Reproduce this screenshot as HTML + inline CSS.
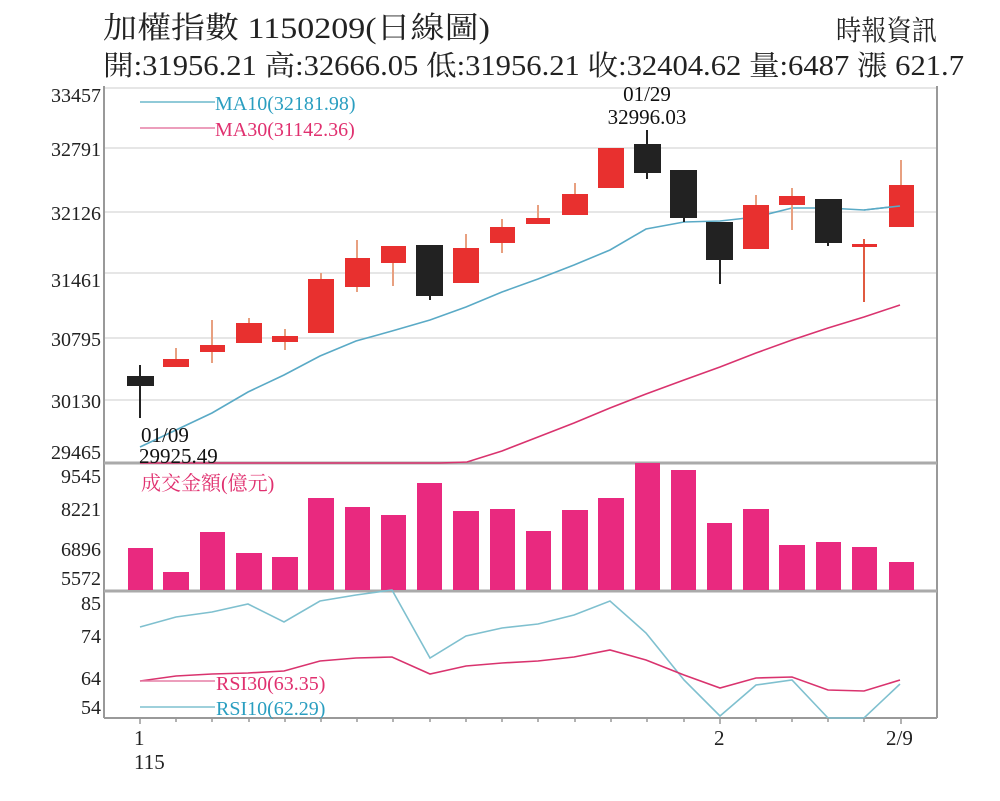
<!DOCTYPE html>
<html><head><meta charset="utf-8"><style>
html,body{margin:0;padding:0;background:#fff;}
svg{display:block;}
text{font-family:"Liberation Serif","Noto Serif CJK SC","Noto Sans CJK TC",serif;}
</style></head><body>
<svg width="1000" height="801" viewBox="0 0 1000 801" xmlns="http://www.w3.org/2000/svg">
<rect width="1000" height="801" fill="#fff"/>
<!-- header -->
<text x="103" y="38" font-size="30" fill="#222" textLength="387" lengthAdjust="spacingAndGlyphs">加權指數 1150209(日線圖)</text>
<text x="836" y="40" font-size="28" fill="#222" textLength="101" lengthAdjust="spacingAndGlyphs">時報資訊</text>
<text x="103" y="75" font-size="28" fill="#222" textLength="861" lengthAdjust="spacingAndGlyphs">開:31956.21 高:32666.05 低:31956.21 收:32404.62 量:6487 漲 621.7</text>

<!-- grid lines price -->
<g stroke="#ddd" stroke-width="1.5">
<line x1="104" y1="148" x2="937" y2="148"/>
<line x1="104" y1="212" x2="937" y2="212"/>
<line x1="104" y1="273" x2="937" y2="273"/>
<line x1="104" y1="338" x2="937" y2="338"/>
<line x1="104" y1="400" x2="937" y2="400"/>
<line x1="104" y1="88" x2="937" y2="88"/>
</g>
<!-- frame -->
<g stroke="#999" stroke-width="2" fill="none">
<line x1="104" y1="86" x2="104" y2="718"/>
<line x1="937" y1="86" x2="937" y2="718"/>
<line x1="104" y1="718" x2="937" y2="718"/>
</g>
<line x1="104" y1="463" x2="937" y2="463" stroke="#aaa" stroke-width="3"/>
<line x1="104" y1="591" x2="937" y2="591" stroke="#aaa" stroke-width="3"/>

<!-- y labels -->
<g font-size="20" fill="#222" text-anchor="end">
<text x="101" y="102">33457</text>
<text x="101" y="156">32791</text>
<text x="101" y="220">32126</text>
<text x="101" y="287">31461</text>
<text x="101" y="346">30795</text>
<text x="101" y="408">30130</text>
<text x="101" y="459">29465</text>
<text x="101" y="483">9545</text>
<text x="101" y="516">8221</text>
<text x="101" y="556">6896</text>
<text x="101" y="585">5572</text>
<text x="101" y="610">85</text>
<text x="101" y="643">74</text>
<text x="101" y="685">64</text>
<text x="101" y="714">54</text>
</g>

<!-- legend -->
<line x1="140" y1="102" x2="215" y2="102" stroke="#6bb8cc" stroke-width="1.5"/>
<text x="215" y="110" font-size="20" fill="#2a9ec0">MA10(32181.98)</text>
<line x1="140" y1="128" x2="215" y2="128" stroke="#e57fa5" stroke-width="1.5"/>
<text x="215" y="136" font-size="20" fill="#e0306f">MA30(31142.36)</text>

<!-- MA lines -->
<polyline fill="none" stroke="#5aaac6" stroke-width="1.6" points="140,447 176,430 212,413 248,392 284,375 320,356 356,341 392,331 430,320 466,307 502,292 538,279 574,265 610,250 646,229 684,222 720,221 756,217 792,208 828,208 864,210 900,206"/>
<polyline fill="none" stroke="#d9336e" stroke-width="1.6" points="140,463 440,463 467,462 502,451 538,437 574,423 610,408 646,394 684,380 720,367 756,353 792,340 828,328 864,317 900,305"/>

<!-- candles -->
<g stroke-width="2">
<g stroke="#222" fill="#222">
<line x1="140" y1="365" x2="140" y2="418"/><rect x="128" y="377" width="25" height="8"/>
<line x1="430" y1="246" x2="430" y2="300"/><rect x="417" y="246" width="25" height="49"/>
<line x1="647" y1="130" x2="647" y2="179"/><rect x="635" y="145" width="25" height="27"/>
<line x1="684" y1="171" x2="684" y2="222"/><rect x="671" y="171" width="25" height="46"/>
<line x1="720" y1="223" x2="720" y2="284"/><rect x="707" y="223" width="25" height="36"/>
<line x1="828" y1="200" x2="828" y2="246"/><rect x="816" y="200" width="25" height="42"/>
</g>
<g stroke="#e8a080" fill="#e8302f">
<line x1="176" y1="348" x2="176" y2="367"/>
<line x1="212" y1="320" x2="212" y2="363"/>
<line x1="249" y1="318" x2="249" y2="343"/>
<line x1="285" y1="329" x2="285" y2="350"/>
<line x1="321" y1="273" x2="321" y2="333"/>
<line x1="357" y1="240" x2="357" y2="292"/>
<line x1="393" y1="246" x2="393" y2="286"/>
<line x1="466" y1="234" x2="466" y2="283"/>
<line x1="502" y1="219" x2="502" y2="253"/>
<line x1="538" y1="205" x2="538" y2="224"/>
<line x1="575" y1="183" x2="575" y2="215"/>
<line x1="756" y1="195" x2="756" y2="249"/>
<line x1="792" y1="188" x2="792" y2="230"/>
<line x1="864" y1="239" x2="864" y2="302" stroke="#e05a40"/>
<line x1="901" y1="160" x2="901" y2="227"/>
</g>
<g fill="#e8302f">
<rect x="163" y="359" width="26" height="8"/>
<rect x="200" y="345" width="25" height="7"/>
<rect x="236" y="323" width="26" height="20"/>
<rect x="272" y="336" width="26" height="6"/>
<rect x="308" y="279" width="26" height="54"/>
<rect x="345" y="258" width="25" height="29"/>
<rect x="381" y="246" width="25" height="17"/>
<rect x="453" y="248" width="26" height="35"/>
<rect x="490" y="227" width="25" height="16"/>
<rect x="526" y="218" width="24" height="6"/>
<rect x="562" y="194" width="26" height="21"/>
<rect x="598" y="148" width="26" height="40"/>
<rect x="743" y="205" width="26" height="44"/>
<rect x="779" y="196" width="26" height="9"/>
<rect x="852" y="244" width="25" height="3"/>
<rect x="889" y="185" width="25" height="42"/>
</g>
</g>
<!-- MA10 over last candle -->
<polyline fill="none" stroke="#5aaac6" stroke-width="1.6" points="864,210 900,206"/>

<!-- annotations -->
<text x="141" y="442" font-size="21" fill="#111">01/09</text>
<text x="139" y="463" font-size="21" fill="#111">29925.49</text>
<text x="647" y="101" font-size="21" fill="#111" text-anchor="middle">01/29</text>
<text x="647" y="124" font-size="21" fill="#111" text-anchor="middle">32996.03</text>

<!-- volume -->
<text x="141" y="490" font-size="20" fill="#e0306f">成交金額(億元)</text>
<g fill="#e9297f">
<rect x="128" y="548" width="25" height="42"/>
<rect x="163" y="572" width="26" height="18"/>
<rect x="200" y="532" width="25" height="58"/>
<rect x="236" y="553" width="26" height="37"/>
<rect x="272" y="557" width="26" height="33"/>
<rect x="308" y="498" width="26" height="92"/>
<rect x="345" y="507" width="25" height="83"/>
<rect x="381" y="515" width="25" height="75"/>
<rect x="417" y="483" width="25" height="107"/>
<rect x="453" y="511" width="26" height="79"/>
<rect x="490" y="509" width="25" height="81"/>
<rect x="526" y="531" width="25" height="59"/>
<rect x="562" y="510" width="26" height="80"/>
<rect x="598" y="498" width="26" height="92"/>
<rect x="635" y="463" width="25" height="127"/>
<rect x="671" y="470" width="25" height="120"/>
<rect x="707" y="523" width="25" height="67"/>
<rect x="743" y="509" width="26" height="81"/>
<rect x="779" y="545" width="26" height="45"/>
<rect x="816" y="542" width="25" height="48"/>
<rect x="852" y="547" width="25" height="43"/>
<rect x="889" y="562" width="25" height="28"/>
</g>

<!-- RSI -->
<polyline fill="none" stroke="#7fc0cf" stroke-width="1.6" points="140,627 176,617 212,612 248,604 284,622 320,601 356,595 392,590 430,658 466,636 502,628 538,624 574,615 610,601 646,633 684,680 720,716 756,685 792,680 828,718 864,718 900,684"/>
<polyline fill="none" stroke="#d9336e" stroke-width="1.6" points="140,681 176,676 212,674 248,673 284,671 320,661 356,658 392,657 430,674 466,666 502,663 538,661 574,657 610,650 646,660 684,675 720,688 756,678 792,677 828,690 864,691 900,680"/>
<line x1="140" y1="681" x2="215" y2="681" stroke="#e57fa5" stroke-width="1.5"/>
<text x="216" y="690" font-size="20" fill="#e0306f">RSI30(63.35)</text>
<line x1="140" y1="707" x2="215" y2="707" stroke="#7fc0cf" stroke-width="1.5"/>
<text x="216" y="715" font-size="20" fill="#2a9ec0">RSI10(62.29)</text>

<!-- x ticks -->
<g stroke="#999" stroke-width="1.5">
<line x1="140" y1="718" x2="140" y2="724"/><line x1="176" y1="718" x2="176" y2="722"/><line x1="212" y1="718" x2="212" y2="722"/><line x1="249" y1="718" x2="249" y2="722"/><line x1="285" y1="718" x2="285" y2="722"/><line x1="321" y1="718" x2="321" y2="722"/><line x1="357" y1="718" x2="357" y2="722"/><line x1="393" y1="718" x2="393" y2="722"/><line x1="430" y1="718" x2="430" y2="722"/><line x1="466" y1="718" x2="466" y2="722"/><line x1="502" y1="718" x2="502" y2="722"/><line x1="538" y1="718" x2="538" y2="722"/><line x1="575" y1="718" x2="575" y2="722"/><line x1="611" y1="718" x2="611" y2="722"/><line x1="647" y1="718" x2="647" y2="722"/><line x1="684" y1="718" x2="684" y2="722"/><line x1="720" y1="718" x2="720" y2="724"/><line x1="756" y1="718" x2="756" y2="722"/><line x1="792" y1="718" x2="792" y2="722"/><line x1="828" y1="718" x2="828" y2="722"/><line x1="864" y1="718" x2="864" y2="722"/><line x1="901" y1="718" x2="901" y2="724"/>
</g>
<g font-size="21" fill="#222">
<text x="134" y="745">1</text>
<text x="134" y="769">115</text>
<text x="714" y="745">2</text>
<text x="886" y="745">2/9</text>
</g>
</svg>
</body></html>
